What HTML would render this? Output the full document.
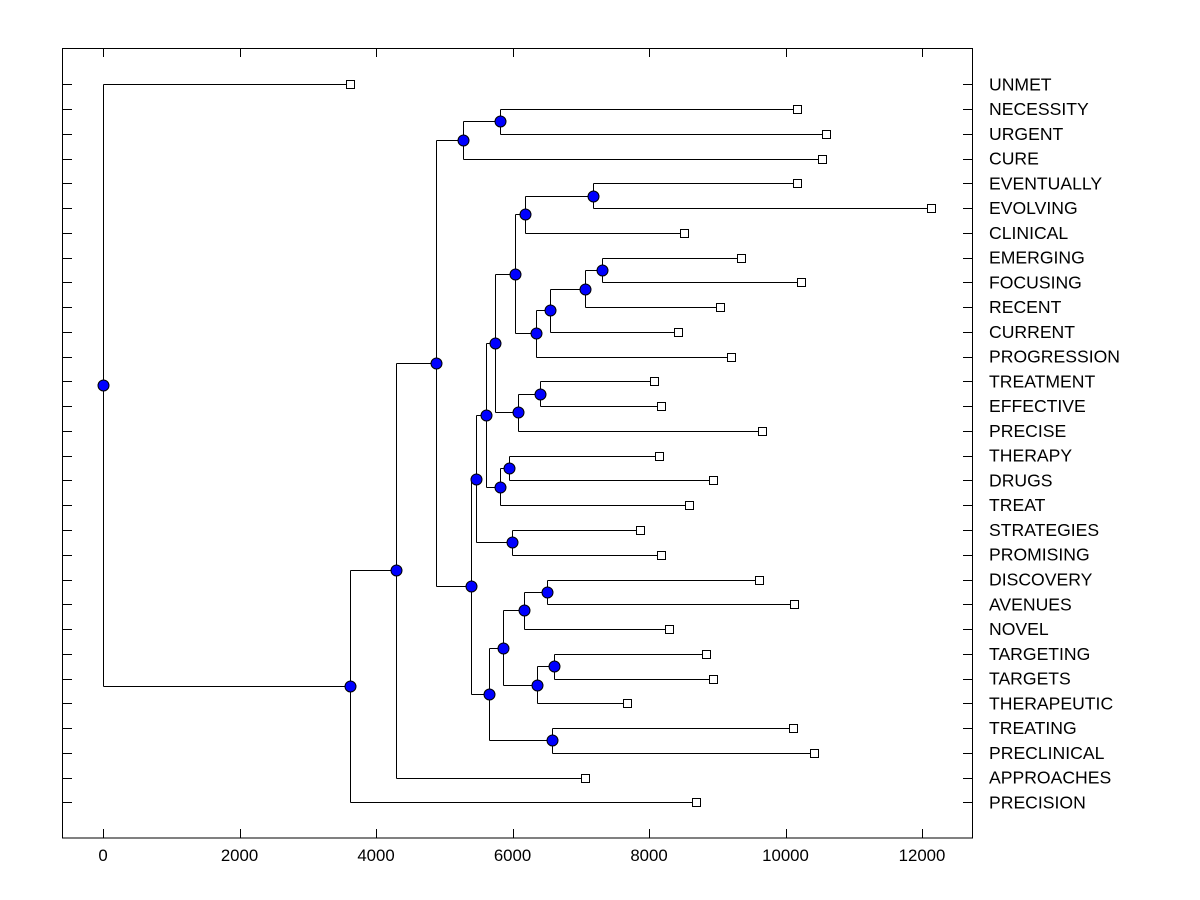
<!DOCTYPE html>
<html><head><meta charset="utf-8"><style>
body{margin:0;background:#fff;}
svg{display:block;font-family:"Liberation Sans",Arial,sans-serif;}
</style></head><body>
<svg id="chart" width="1200" height="900" viewBox="0 0 1200 900" xmlns="http://www.w3.org/2000/svg">
<rect x="0" y="0" width="1200" height="900" fill="#fff"/>
<rect x="62.5" y="48.5" width="910" height="789.5" fill="none" stroke="#000" stroke-width="1"/>
<g id="axes"></g><g id="links"></g><g id="marks"></g><g id="labels"></g>
</svg>
<script>
const leafNames = ["UNMET","NECESSITY","URGENT","CURE","EVENTUALLY","EVOLVING","CLINICAL","EMERGING","FOCUSING","RECENT","CURRENT","PROGRESSION","TREATMENT","EFFECTIVE","PRECISE","THERAPY","DRUGS","TREAT","STRATEGIES","PROMISING","DISCOVERY","AVENUES","NOVEL","TARGETING","TARGETS","THERAPEUTIC","TREATING","PRECLINICAL","APPROACHES","PRECISION"];
const leafValues = [3620,10170,10590,10540,10170,12130,8510,9350,10230,9040,8420,9200,8070,8180,9660,8150,8940,8590,7870,8180,9610,10130,8290,8840,8940,7680,10110,10420,7060,8690];
const mergeLeft  = [1,30,4,32,7,34,35,36,33,12,39,38,15,42,41,18,44,20,47,23,49,48,26,51,46,31,55,56,0];
const mergeRight = [2,3,5,6,8,9,10,11,37,13,14,40,16,17,43,19,45,21,22,24,25,50,27,52,53,54,28,29,57];
const mergeHeights = [5820,5275,7180,6183,7311,7062,6549,6344,6037,6403,6081,5744,5949,5817,5612,5993,5465,6505,6168,6608,6359,5861,6579,5656,5392,4879,4293,3619,0];
const xTicks = [0,2000,4000,6000,8000,10000,12000];

const NS="http://www.w3.org/2000/svg";
const X0=103, XS=0.06825, Y0=84.3, YS=24.76;
const xs=v=>X0+v*XS, ys=i=>Y0+i*YS;
const px=v=>Math.round(v)+0.5;
function mk(tag,attrs,parent){const e=document.createElementNS(NS,tag);for(const k in attrs)e.setAttribute(k,attrs[k]);document.getElementById(parent).appendChild(e);return e;}

xTicks.forEach(t=>{
  const x=px(xs(t));
  let e=mk('line',{x1:x,x2:x,y1:838,y2:829,stroke:'#000'},'axes');
  
  
  e=mk('line',{x1:x,x2:x,y1:48,y2:57,stroke:'#000'},'axes');
  
  
  e=mk('text',{x:xs(t),y:861,'text-anchor':'middle','font-size':'16.8'},'axes');
  e.textContent=String(t);
  
  
});
leafNames.forEach((n,i)=>{
  const y=px(ys(i));
  let e=mk('line',{x1:62,x2:72,y1:y,y2:y,stroke:'#000'},'axes');
  
  
  e=mk('line',{x1:963,x2:973,y1:y,y2:y,stroke:'#000'},'axes');
  
  
  e=mk('text',{x:989,y:ys(i)+6,'font-size':'17.6'},'labels');
  e.textContent=n;
  
  
});

const N=leafNames.length;
const nodeX=[], nodeY=[];
leafNames.forEach((n,i)=>{nodeX[i]=xs(leafValues[i]);nodeY[i]=ys(i);});
mergeHeights.forEach((h,k)=>{
  const a=mergeLeft[k], b=mergeRight[k], id=N+k, x=xs(h);
  nodeX[id]=x; nodeY[id]=(nodeY[a]+nodeY[b])/2;
  let e=mk('line',{x1:px(x),x2:px(x),y1:px(nodeY[a]),y2:px(nodeY[b]),stroke:'#000'},'links');
  
  
  [a,b].forEach(c=>{
    const l=mk('line',{x1:px(x),x2:px(nodeX[c]),y1:px(nodeY[c]),y2:px(nodeY[c]),stroke:'#000'},'links');
    
    
  });
});
leafNames.forEach((n,i)=>{
  const e=mk('rect',{x:px(nodeX[i])-4,y:px(nodeY[i])-4,width:8,height:8,fill:'#fff',stroke:'#000'},'marks');
  
  
});
mergeHeights.forEach((h,k)=>{
  const id=N+k;
  const e=mk('circle',{cx:px(nodeX[id]),cy:px(nodeY[id]),r:5.5,fill:'#0000ff',stroke:'#000','stroke-width':1},'marks');
  
  
});
</script>
</body></html>
